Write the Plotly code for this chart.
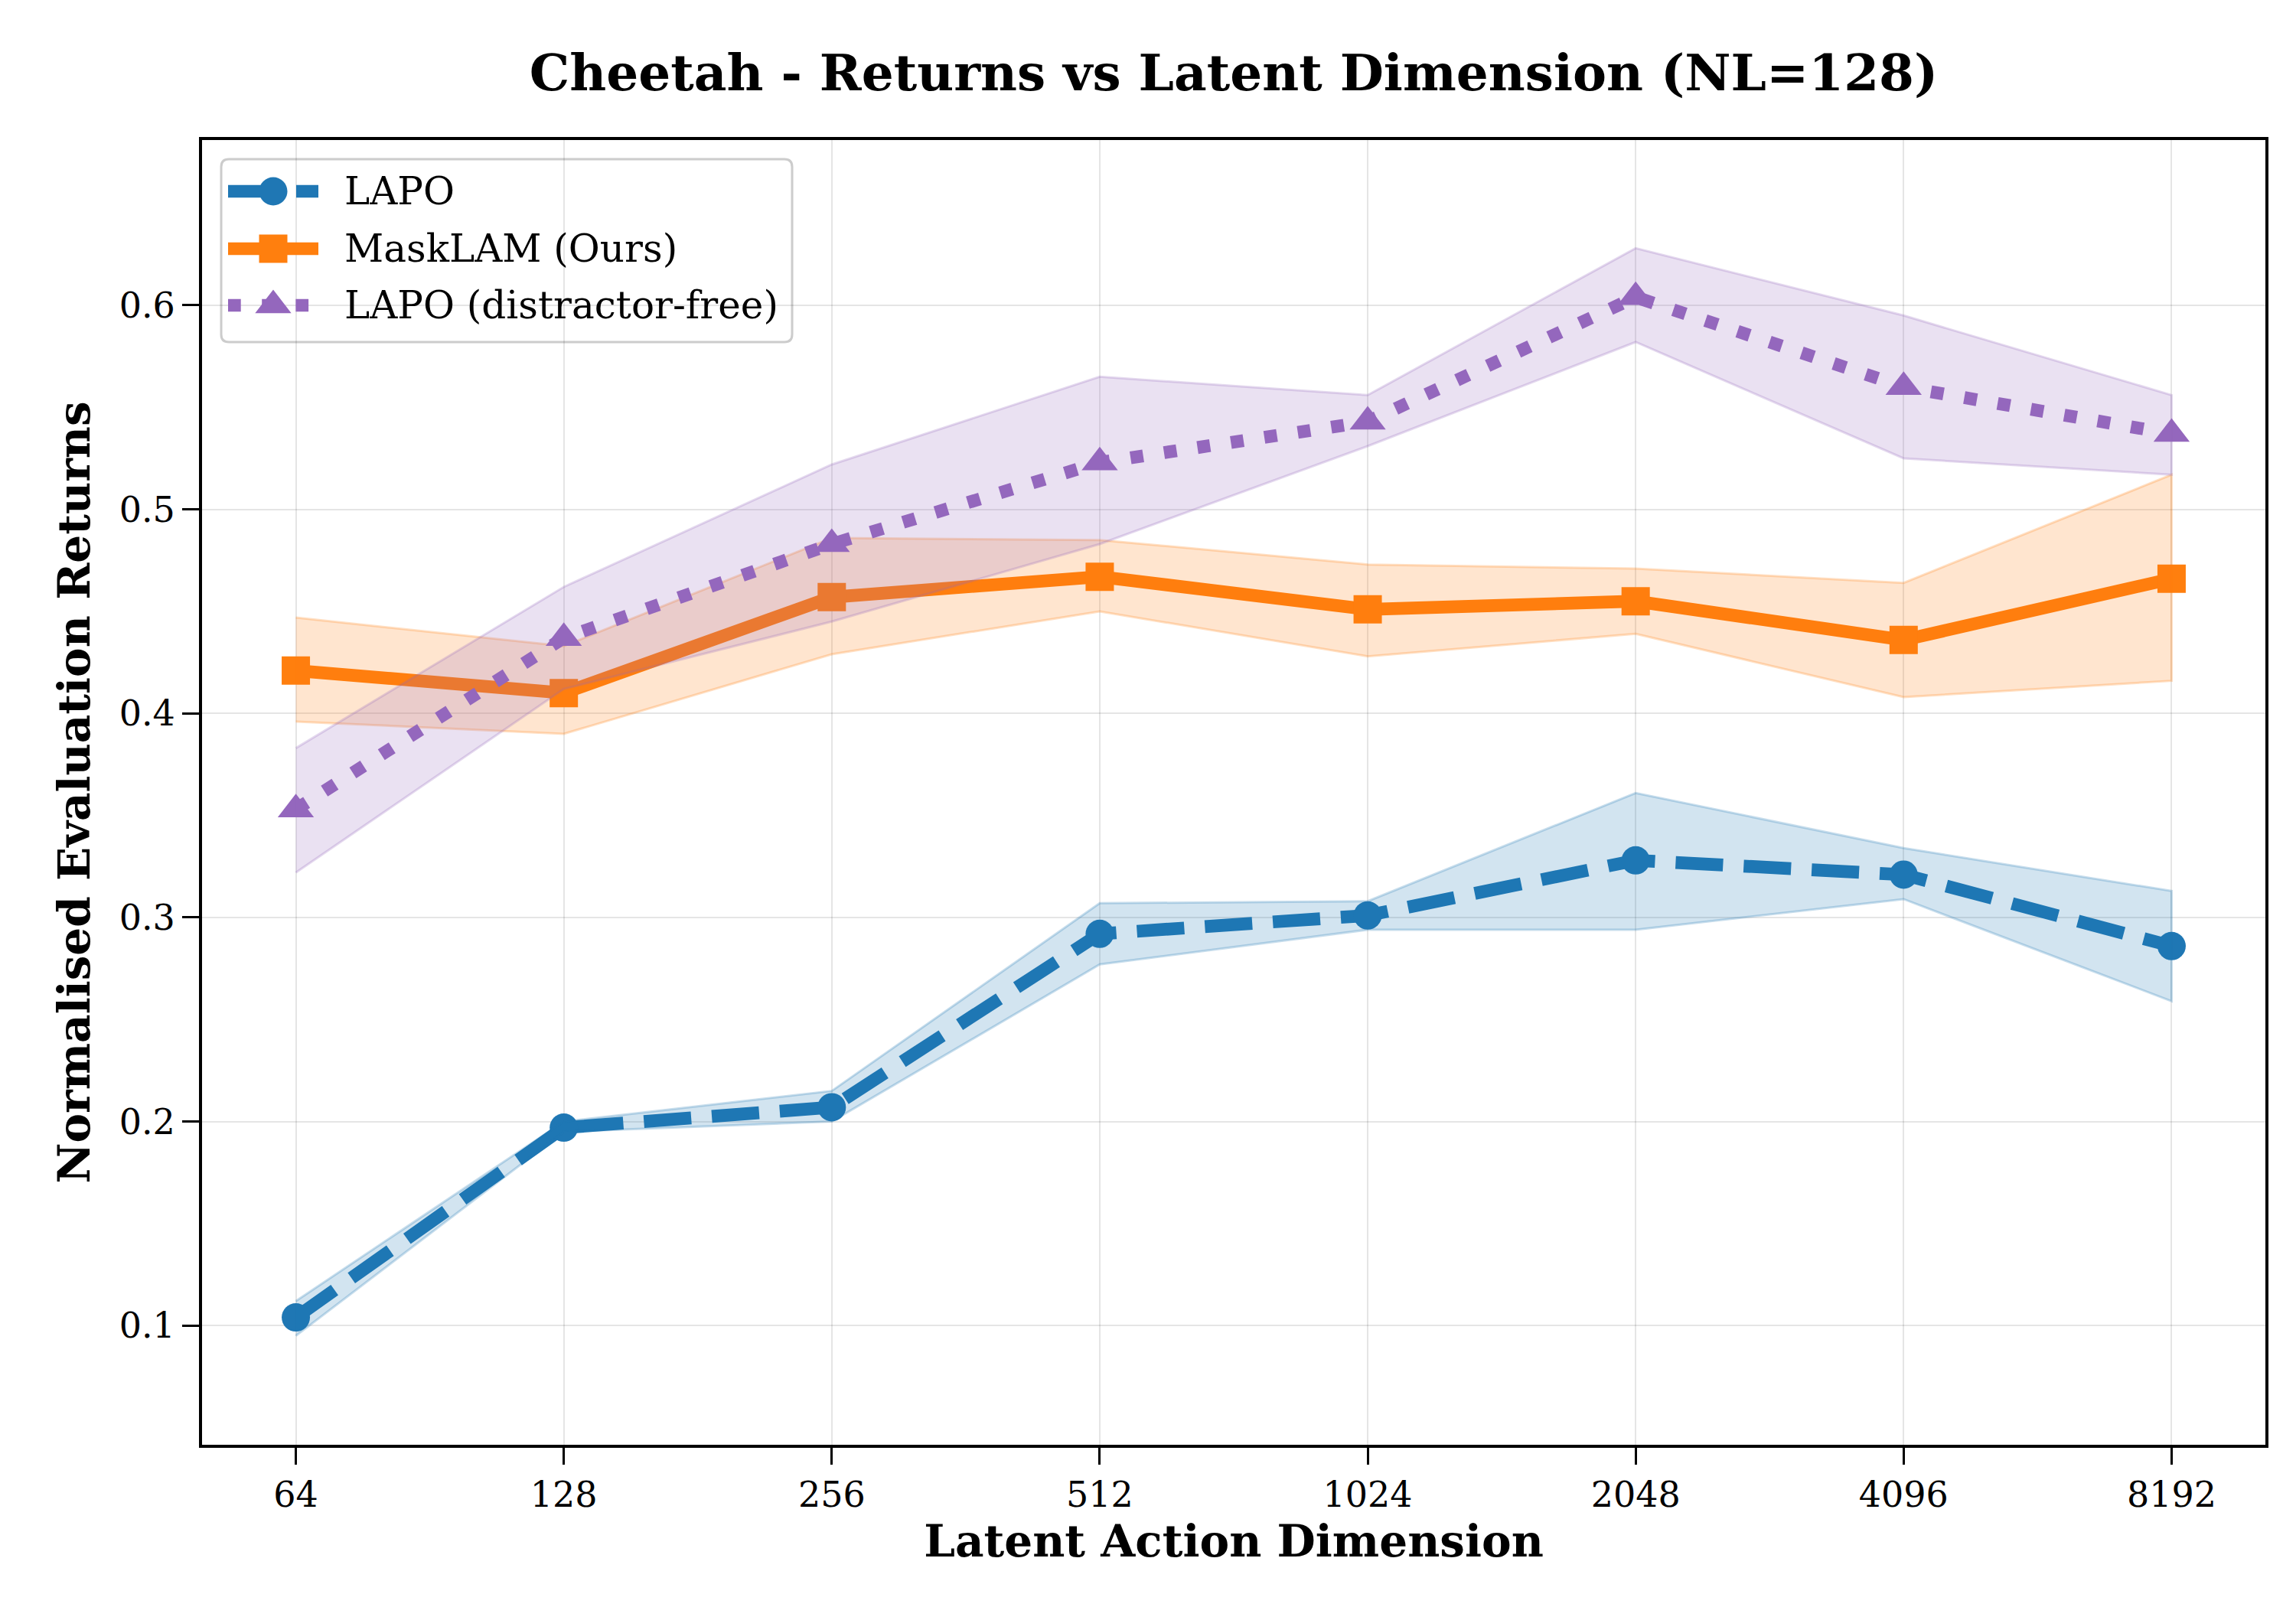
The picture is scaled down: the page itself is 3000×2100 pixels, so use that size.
import plotly.graph_objects as go

dims = ["64", "128", "256", "512", "1024", "2048", "4096", "8192"]

lapo_mean = [0.104, 0.197, 0.207, 0.292, 0.301, 0.328, 0.321, 0.286]
lapo_low = [0.095, 0.195, 0.200, 0.277, 0.294, 0.294, 0.309, 0.259]
lapo_high = [0.112, 0.200, 0.215, 0.307, 0.308, 0.361, 0.334, 0.313]

mask_mean = [0.421, 0.410, 0.457, 0.467, 0.451, 0.455, 0.436, 0.466]
mask_low = [0.396, 0.390, 0.429, 0.450, 0.428, 0.439, 0.408, 0.416]
mask_high = [0.447, 0.433, 0.486, 0.485, 0.473, 0.471, 0.464, 0.517]

free_mean = [0.353, 0.437, 0.483, 0.523, 0.543, 0.604, 0.560, 0.537]
free_low = [0.322, 0.412, 0.445, 0.483, 0.531, 0.582, 0.525, 0.517]
free_high = [0.383, 0.462, 0.522, 0.565, 0.556, 0.628, 0.595, 0.556]

names = ["LAPO", "MaskLAM (Ours)", "LAPO (distractor-free)"]
xpos = list(range(len(dims)))

W, H = 3000, 2100
ML, MR, MT, MB = 256, 48, 175, 220
PW, PH = W - ML - MR, H - MT - MB
FONT = "DejaVu Serif"
LW = 16.7

styles = [
    ((31, 119, 180), "62px,27px", "circle", 37),
    ((255, 127, 14), "solid", "square", 37),
    ((148, 103, 189), "16.7px,27.5px", "triangle-up", 41),
]
data = [(lapo_mean, lapo_low, lapo_high), (mask_mean, mask_low, mask_high), (free_mean, free_low, free_high)]


def px(x):
    return (x - ML) / PW


def py(y):
    return 1 - (y - MT) / PH


fig = go.Figure()
for name, (m, lo, hi), (c, dash, sym, ms) in zip(names, data, styles):
    rgb = "rgb(%d,%d,%d)" % c
    fig.add_trace(go.Scatter(
        x=xpos, y=m, name=name, mode="lines+markers", showlegend=False,
        line=dict(color=rgb, width=LW, dash=dash),
        marker=dict(symbol=sym, size=ms, color=rgb, line=dict(width=0)),
    ))
    fig.add_trace(go.Scatter(
        x=xpos + xpos[::-1], y=hi + lo[::-1], fill="toself",
        fillcolor="rgba(%d,%d,%d,0.2)" % c,
        line=dict(color="rgba(%d,%d,%d,0.25)" % c, width=3),
        mode="lines", showlegend=False, hoverinfo="skip",
    ))

# custom legend (matplotlib style) drawn in an overlay axis spanning the plot area
box = (281, 200, 1027, 439)
rows = [242, 317, 391]
line_x0, line_x1, mark_x, text_x = 290, 408, 349, 440
r = 10
bx0, by0, bx1, by1 = px(box[0]), py(box[1]), px(box[2]), py(box[3])
rx, ry = r / PW, r / PH
path = (f"M {bx0+rx},{by0} L {bx1-rx},{by0} Q {bx1},{by0} {bx1},{by0-ry} "
        f"L {bx1},{by1+ry} Q {bx1},{by1} {bx1-rx},{by1} L {bx0+rx},{by1} "
        f"Q {bx0},{by1} {bx0},{by1+ry} L {bx0},{by0-ry} Q {bx0},{by0} {bx0+rx},{by0} Z")
fig.add_shape(type="path", path=path, xref="paper", yref="paper", layer="between",
              fillcolor="rgba(255,255,255,0.85)", line=dict(color="rgb(204,204,204)", width=3))

for name, ry_, (c, dash, sym, ms) in zip(names, rows, styles):
    rgb = "rgb(%d,%d,%d)" % c
    fig.add_trace(go.Scatter(
        x=[px(line_x0), px(line_x1)], y=[py(ry_), py(ry_)], xaxis="x2", yaxis="y2",
        mode="lines", line=dict(color=rgb, width=LW, dash=dash), showlegend=False, hoverinfo="skip"))
    fig.add_trace(go.Scatter(
        x=[px(mark_x)], y=[py(ry_)], xaxis="x2", yaxis="y2", mode="markers",
        marker=dict(symbol=sym, size=ms, color=rgb, line=dict(width=0)), showlegend=False, hoverinfo="skip"))
    fig.add_annotation(text=name, x=px(text_x), y=py(ry_), xref="paper", yref="paper",
                       xanchor="left", yanchor="middle", showarrow=False,
                       font=dict(size=50, family=FONT, color="black"))

fig.update_layout(
    width=W, height=H,
    paper_bgcolor="white", plot_bgcolor="white",
    margin=dict(l=ML, r=MR, t=MT, b=MB),
    font=dict(family=FONT, size=46, color="black"),
    title=dict(text="<b>Cheetah - Returns vs Latent Dimension (NL=128)</b>",
               x=0.5, xref="paper", xanchor="center", y=0.9586, yanchor="middle",
               font=dict(size=66, family=FONT)),
    showlegend=False,
    xaxis2=dict(overlaying="x", range=[0, 1], visible=False, domain=[0, 1]),
    yaxis2=dict(overlaying="y", range=[0, 1], visible=False, domain=[0, 1]),
)
fig.layout.xaxis.update(
    range=[-0.35, 7.35], tickmode="array", tickvals=xpos, ticktext=dims,
    showline=True, linecolor="black", linewidth=4, mirror=True,
    ticks="outside", ticklen=22, tickwidth=3, tickcolor="black",
    showgrid=True, gridcolor="rgba(0,0,0,0.1)", gridwidth=2,
    tickfont=dict(size=46, family=FONT), zeroline=False,
    title=dict(text="<b>Latent Action Dimension</b>", font=dict(size=58, family=FONT), standoff=15),
)
fig.layout.yaxis.update(
    range=[0.0416, 0.681], tickvals=[0.1, 0.2, 0.3, 0.4, 0.5, 0.6],
    ticktext=["0.1", "0.2", "0.3", "0.4", "0.5", "0.6"],
    showline=True, linecolor="black", linewidth=4, mirror=True,
    ticks="outside", ticklen=22, tickwidth=3, tickcolor="black",
    showgrid=True, gridcolor="rgba(0,0,0,0.1)", gridwidth=2,
    tickfont=dict(size=46, family=FONT), zeroline=False,
    title=dict(text="<b>Normalised Evaluation Returns</b>", font=dict(size=58, family=FONT), standoff=20),
)

fig.write_html("out.html")
